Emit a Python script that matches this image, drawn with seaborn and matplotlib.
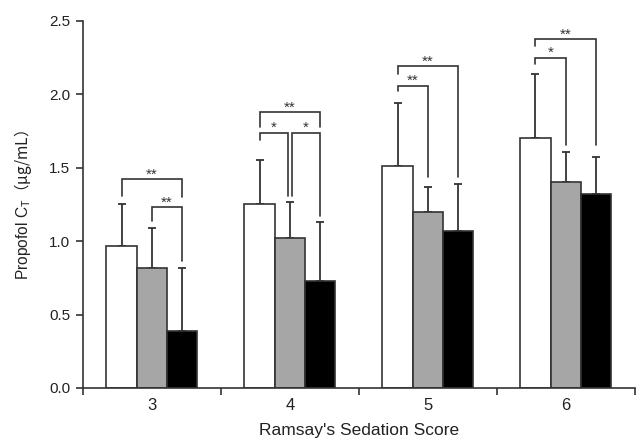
import numpy as np
import pandas as pd
import matplotlib
matplotlib.use('Agg')
import matplotlib.pyplot as plt
import seaborn as sns

# Ramsay sedation scores and the three study groups
scores = ['3', '4', '5', '6']
groups = ['Group 1', 'Group 2', 'Group 3']
mean_g1 = [0.97, 1.25, 1.51, 1.70]
mean_g2 = [0.82, 1.02, 1.20, 1.40]
mean_g3 = [0.39, 0.73, 1.07, 1.32]
sd_g1 = [0.28, 0.30, 0.43, 0.44]
sd_g2 = [0.27, 0.25, 0.17, 0.21]
sd_g3 = [0.43, 0.40, 0.32, 0.25]

# significance brackets: score index, bar i, bar j, bracket height,
# left leg end, right leg end, label
br_score = [0, 0, 1, 1, 1, 2, 2, 3, 3]
br_left = [0, 1, 0, 0, 1, 0, 0, 0, 0]
br_right = [2, 2, 2, 1, 2, 2, 1, 2, 1]
br_top = [1.42, 1.23, 1.88, 1.74, 1.74, 2.19, 2.06, 2.375, 2.25]
br_left_end = [1.31, 1.14, 1.78, 1.69, 1.31, 2.14, 2.02, 2.33, 2.21]
br_right_end = [1.30, 0.865, 1.78, 1.31, 1.17, 1.435, 1.435, 1.655, 1.655]
br_label = ['**', '**', '**', '*', '*', '**', '**', '**', '*']

LINE = '#333333'


def build_df():
    rows = []
    for g, means, sds in zip(groups, [mean_g1, mean_g2, mean_g3], [sd_g1, sd_g2, sd_g3]):
        for s, m, e in zip(scores, means, sds):
            rows.append({'score': s, 'group': g, 'mean': m, 'sd': e})
    return pd.DataFrame(rows)


def main():
    df = build_df()
    fig = plt.figure(figsize=(6.38, 4.38), dpi=100)
    ax = fig.add_axes([0.130, 0.1142, 0.865, 0.838])
    sns.barplot(data=df, x='score', y='mean', hue='group', order=scores, hue_order=groups,
                palette=['white', '#a6a6a6', 'black'], edgecolor=LINE, linewidth=1.2,
                width=0.66, gap=0, errorbar=None, legend=False, ax=ax)

    # bar centres taken from the drawn bars
    bar_conts = list(ax.containers)
    centers = []
    for gi, cont in enumerate(bar_conts):
        xs = [b.get_x() + b.get_width() / 2 for b in cont]
        centers.append(xs)
        sub = df[df['group'] == groups[gi]]
        ax.errorbar(xs, sub['mean'], yerr=[np.zeros(len(sub)), sub['sd']], fmt='none',
                    ecolor=LINE, elinewidth=1.3, capsize=3, capthick=1.3, zorder=0.9)

    # brackets
    for k in range(len(br_label)):
        s = br_score[k]
        x0 = centers[br_left[k]][s]
        x1 = centers[br_right[k]][s]
        # the two split brackets of score 4 meet just beside the middle bar
        if s == 1 and br_right[k] == 1 and br_left[k] == 0:
            x1 -= 0.013
        if s == 1 and br_left[k] == 1:
            x0 += 0.013
        ax.plot([x0, x0, x1, x1], [br_left_end[k], br_top[k], br_top[k], br_right_end[k]],
                color=LINE, lw=1.2, solid_joinstyle='miter', clip_on=False)
        ax.annotate(br_label[k], xy=((x0 + x1) / 2, br_top[k]), xytext=(0, 0.3),
                    textcoords='offset points', ha='center', va='baseline', fontsize=11,
                    color=LINE)

    ax.set_xlim(-0.5, 3.5)
    ax.set_ylim(0, 2.5)
    ax.set_yticks([0, 0.5, 1.0, 1.5, 2.0, 2.5])
    ax.set_yticklabels(['0.0', '0.5', '1.0', '1.5', '2.0', '2.5'])
    ax.set_xticks([-0.5, 0.5, 1.5, 2.5, 3.5], minor=True)
    ax.tick_params(axis='x', which='major', length=0, pad=7.5, labelsize=12)
    ax.tick_params(axis='x', which='minor', length=5, width=1.2, color=LINE, direction='out')
    ax.tick_params(axis='y', length=5, width=1.2, color=LINE, direction='out', pad=4,
                   labelsize=11)
    ax.tick_params(labelcolor='#222222')
    for sp in ['top', 'right']:
        ax.spines[sp].set_visible(False)
    for sp in ['left', 'bottom']:
        ax.spines[sp].set_color(LINE)
        ax.spines[sp].set_linewidth(1.2)

    ax.set_xlabel("Ramsay's Sedation Score", fontsize=12.5, color='#222222', labelpad=7)
    ax.set_ylabel('Propofol C$_{\\mathrm{T}}$$\\mathrm{（μg/mL）}$', fontsize=11.2, color='#222222')
    ax.yaxis.set_label_coords(-0.088, 0.5)
    fig.savefig('out.png', dpi=100)


if __name__ == '__main__':
    sns.set_style('ticks')
    plt.rcParams['font.family'] = ['Liberation Sans', 'Noto Sans CJK SC', 'DejaVu Sans']
    plt.rcParams['mathtext.fontset'] = 'custom'
    plt.rcParams['mathtext.rm'] = 'Noto Sans CJK SC'
    main()
